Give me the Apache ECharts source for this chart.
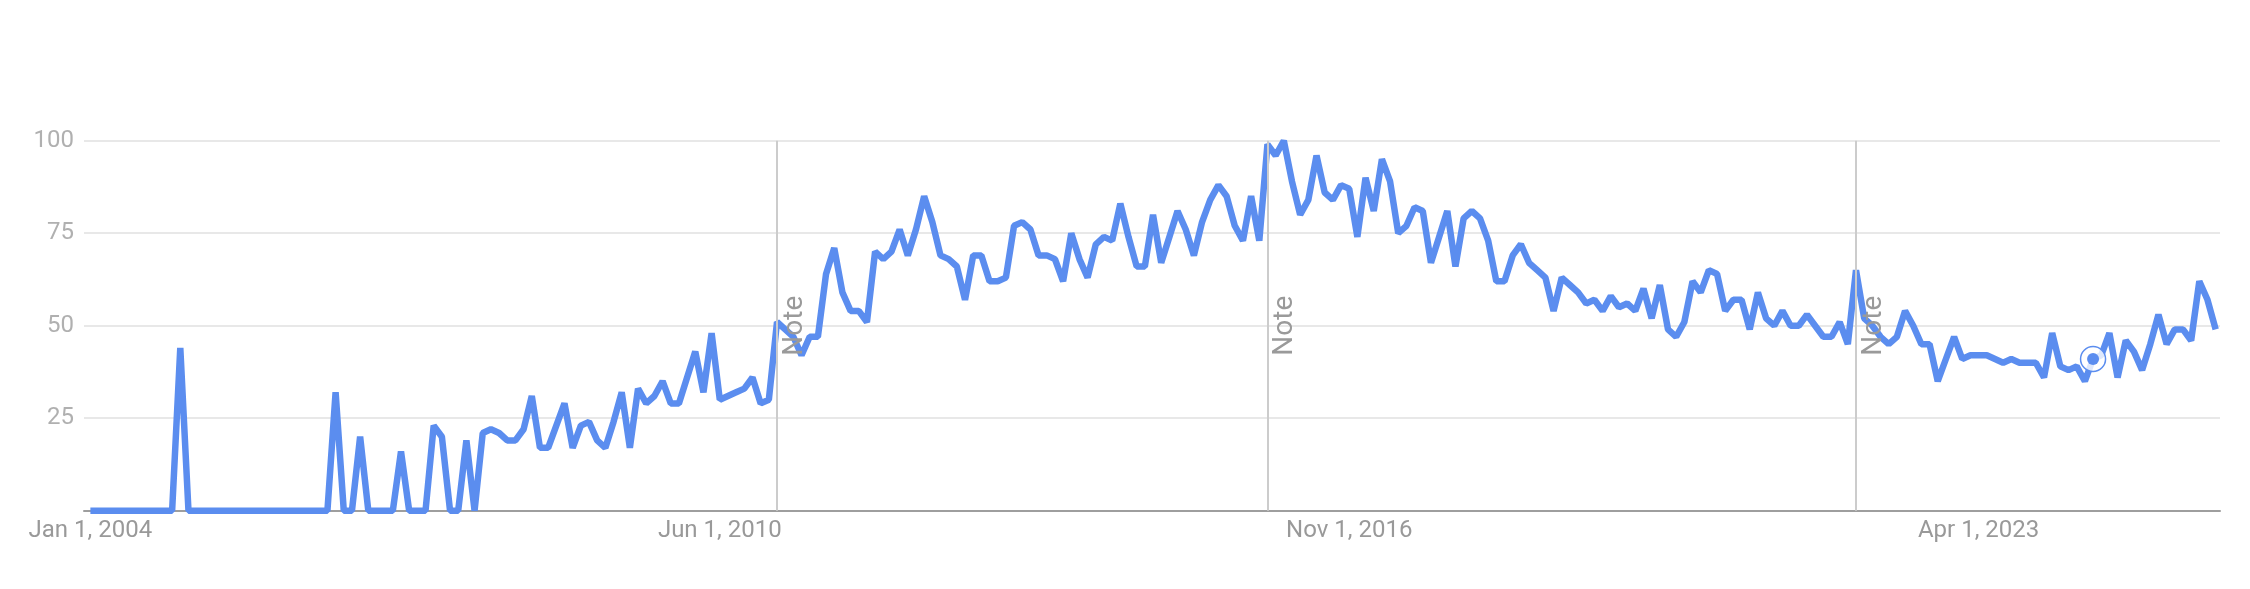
<!DOCTYPE html>
<html>
<head>
<meta charset="utf-8">
<script src="https://cdn.jsdelivr.net/npm/echarts@6/dist/echarts.min.js"></script>
<style>
  html, body { margin: 0; padding: 0; background: #ffffff; }
  #chart { width: 2250px; height: 589px; }
</style>
</head>
<body>
<div id="chart"></div>
<script>
// Monthly interest, Jan 2004 (index 0) .. Sep 2025 (index 260)
const interest = [
  0, 0, 0, 0, 0, 0, 0, 0, 0, 0,
  0, 44, 0, 0, 0, 0, 0, 0, 0, 0,
  0, 0, 0, 0, 0, 0, 0, 0, 0, 0,
  32, 0, 0, 20, 0, 0, 0, 0, 16, 0,
  0, 0, 23, 20, 0, 0, 19, 0, 21, 22,
  21, 19, 19, 22, 31, 17, 17, 23, 29, 17,
  23, 24, 19, 17, 24, 32, 17, 33, 29, 31,
  35, 29, 29, 36, 43, 32, 48, 30, 31, 32,
  33, 36, 29, 30, 51, 49, 47, 42, 47, 47,
  64, 71, 59, 54, 54, 51, 70, 68, 70, 76,
  69, 76, 85, 78, 69, 68, 66, 57, 69, 69,
  62, 62, 63, 77, 78, 76, 69, 69, 68, 62,
  75, 68, 63, 72, 74, 73, 83, 74, 66, 66,
  80, 67, 74, 81, 76, 69, 78, 84, 88, 85,
  77, 73, 85, 73, 99, 96, 100, 89, 80, 84,
  96, 86, 84, 88, 87, 74, 90, 81, 95, 89,
  75, 77, 82, 81, 67, 74, 81, 66, 79, 81,
  79, 73, 62, 62, 69, 72, 67, 65, 63, 54,
  63, 61, 59, 56, 57, 54, 58, 55, 56, 54,
  60, 52, 61, 49, 47, 51, 62, 59, 65, 64,
  54, 57, 57, 49, 59, 52, 50, 54, 50, 50,
  53, 50, 47, 47, 51, 45, 65, 52, 50, 47,
  45, 47, 54, 50, 45, 45, 35, 41, 47, 41,
  42, 42, 42, 41, 40, 41, 40, 40, 40, 36,
  48, 39, 38, 39, 35, 41, 42, 48, 36, 46,
  43, 38, 45, 53, 45, 49, 49, 46, 62, 57,
  49
];

// x-axis tick labels (month index from Jan 2004)
const tickIndex = [0, 77, 154, 231];
const tickLabels = ['Jan 1, 2004', 'Jun 1, 2010', 'Nov 1, 2016', 'Apr 1, 2023'];

// "Note" markers (Jan 2011, Jan 2016, Jan 2022)
const noteIndex = [84, 144, 216];
const noteText = 'Note';

// y ticks
const yTicks = [0, 25, 50, 75, 100];

// highlighted point
const highlightIndex = 245;

const seriesData = interest.map((v, i) => [i, v]);

const chart = echarts.init(document.getElementById('chart'), null, { renderer: 'canvas' });

const FONT = 'Roboto';
const LINE_COLOR = '#5b8def';

chart.setOption({
  animation: false,
  backgroundColor: '#ffffff',
  grid: { left: 84, right: 30, top: 140.7, bottom: 78.3, containLabel: false },
  xAxis: {
    type: 'value',
    min: -0.78,
    max: 260.53,
    axisLine: { show: true, lineStyle: { color: '#9e9e9e', width: 2 } },
    axisTick: { show: false },
    splitLine: { show: false },
    axisLabel: {
      customValues: tickIndex,
      formatter: (v) => tickLabels[tickIndex.indexOf(Math.round(v))] || '',
      color: '#999999',
      fontSize: 24,
      fontFamily: FONT,
      margin: 8
    }
  },
  yAxis: {
    type: 'value',
    min: yTicks[0],
    max: yTicks[yTicks.length - 1],
    interval: 25,
    axisLine: { show: false },
    axisTick: { show: false },
    axisLabel: {
      formatter: (v) => (v === 0 ? '' : String(v)),
      color: '#b0b0b0',
      fontSize: 24,
      fontFamily: FONT,
      margin: 10
    },
    splitLine: { show: true, lineStyle: { color: '#e0e0e0', width: 1.5 } }
  },
  series: [
    {
      type: 'line',
      name: 'notes',
      data: [],
      z: 1,
      silent: true,
      markLine: {
        silent: true,
        symbol: ['none', 'none'],
        animation: false,
        lineStyle: { color: '#cccccc', width: 2, type: 'solid' },
        label: {
          show: true,
          formatter: noteText,
          position: 'insideMiddleBottom',
          distance: 4,
          fontSize: 28,
          fontFamily: FONT,
          color: '#9a9a9a'
        },
        data: noteIndex.map((i) => ({ xAxis: i }))
      }
    },
    {
      type: 'line',
      name: 'Interest',
      data: seriesData,
      z: 3,
      showSymbol: false,
      symbol: 'none',
      lineStyle: { color: LINE_COLOR, width: 6.5, join: 'bevel' },
      emphasis: { disabled: true },
      markPoint: {
        silent: true,
        animation: false,
        label: { show: false },
        data: [
          {
            coord: [highlightIndex, interest[highlightIndex]],
            symbol: 'circle',
            symbolSize: 25,
            itemStyle: { color: 'rgba(255,255,255,0.8)', borderColor: LINE_COLOR, borderWidth: 1.5 }
          },
          {
            coord: [highlightIndex, interest[highlightIndex]],
            symbol: 'circle',
            symbolSize: 12,
            itemStyle: { color: LINE_COLOR }
          }
        ]
      }
    }
  ]
});
</script>
</body>
</html>
